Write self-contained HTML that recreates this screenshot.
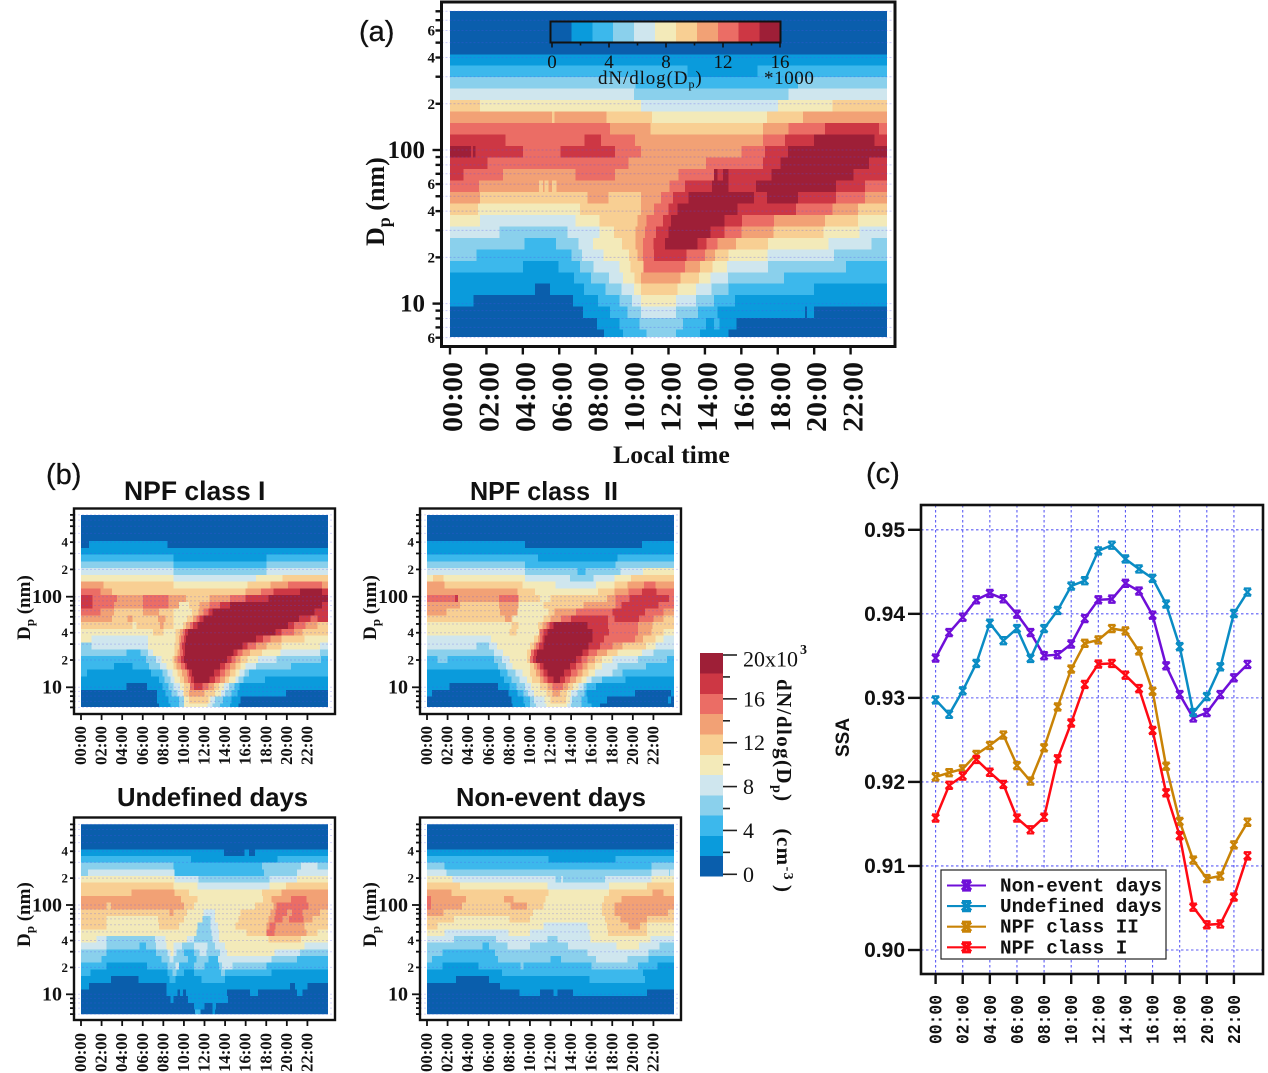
<!DOCTYPE html>
<html lang="en">
<head>
<meta charset="utf-8">
<title>Particle size distributions and SSA</title>
<style>
html,body{margin:0;padding:0;background:#fff;}
body{width:1268px;height:1073px;overflow:hidden;}
svg{display:block;filter:blur(0.35px);}
text{fill:#111;}
.sans{font-family:"Liberation Sans",sans-serif;}
.serif{font-family:"Liberation Serif",serif;font-weight:bold;}
.mono{font-family:"Liberation Mono",monospace;font-weight:bold;}
</style>
</head>
<body>
<svg id="fig" xmlns="http://www.w3.org/2000/svg" width="1268" height="1073" viewBox="0 0 1268 1073">
  <text class="sans" x="359" y="41" font-size="29" stroke="#111" stroke-width="0.3">(a)</text>
  <text class="sans" x="46" y="484" font-size="29" stroke="#111" stroke-width="0.3">(b)</text>
  <text class="sans" x="866" y="483" font-size="29" stroke="#111" stroke-width="0.3">(c)</text>

  <text class="sans" font-weight="bold" x="124" y="500" font-size="26.5">NPF class I</text>
  <text class="sans" font-weight="bold" x="470" y="500" font-size="26" textLength="148" lengthAdjust="spacingAndGlyphs" xml:space="preserve">NPF class  II</text>
  <text class="sans" font-weight="bold" x="117" y="806" font-size="26" textLength="191" lengthAdjust="spacingAndGlyphs">Undefined days</text>
  <text class="sans" font-weight="bold" x="456" y="806" font-size="26" textLength="190" lengthAdjust="spacingAndGlyphs">Non-event days</text>

  <text class="serif" x="613" y="463" font-size="25.8">Local time</text>
  <text class="serif" font-size="26" transform="translate(384,246) rotate(-90)">D<tspan font-size="18" dy="6">p</tspan><tspan dy="-6"> (nm)</tspan></text>
  <text class="serif" font-size="19" transform="translate(30,640) rotate(-90)">D<tspan font-size="13" dy="4">p</tspan><tspan dy="-4"> (nm)</tspan></text>
  <text class="serif" font-size="19" transform="translate(376,640) rotate(-90)">D<tspan font-size="13" dy="4">p</tspan><tspan dy="-4"> (nm)</tspan></text>
  <text class="serif" font-size="19" transform="translate(30,947) rotate(-90)">D<tspan font-size="13" dy="4">p</tspan><tspan dy="-4"> (nm)</tspan></text>
  <text class="serif" font-size="19" transform="translate(376,947) rotate(-90)">D<tspan font-size="13" dy="4">p</tspan><tspan dy="-4"> (nm)</tspan></text>

  <g id="heatA"></g>
  <g id="heatI"></g>
  <g id="heatII"></g>
  <g id="heatU"></g>
  <g id="heatN"></g>

  <g id="cbarTop"></g>
  <text class="serif" style="font-weight:normal" x="598" y="84" font-size="19" letter-spacing="0.9">dN/dlog(D<tspan font-size="12" dy="4">p</tspan><tspan dy="-4">)</tspan></text>
  <text class="serif" style="font-weight:normal" x="764" y="84" font-size="19" letter-spacing="0.6">*1000</text>

  <g id="cbarSide"></g>
  <text class="serif" font-size="21" letter-spacing="1.4" transform="translate(777,679) rotate(90)">dN/dlog(D<tspan font-size="14" dy="4">p</tspan><tspan dy="-4">)</tspan><tspan dx="26">(cm</tspan><tspan font-size="14" dy="-7">-3</tspan><tspan dx="4" dy="7">)</tspan></text>
  <text class="serif" x="800" y="654" font-size="14">3</text>

  <g id="lineChart"></g>
  <text class="sans" font-weight="bold" font-size="19" transform="translate(849,757) rotate(-90)">SSA</text>
</svg>

<script>
// ---------- shared axis labels ----------
var timeTickLabels = ['00:00','02:00','04:00','06:00','08:00','10:00','12:00','14:00','16:00','18:00','20:00','22:00'];
var dpMinorTicks = [800,700,600,500,400,300,200,100,90,80,70,60,50,40,30,20,10,9,8,7,6];
var dpLabelValues = [100,10];
var dpSmallTickLabels = [[600,'6'],[400,'4'],[200,'2'],[60,'6'],[40,'4'],[20,'2'],[6,'6']];
var levelColors = ['#0a5eac','#0a9bdc','#3cb8ec','#8ad0ec','#cfe6ee','#f3eab9','#f8cf93','#f2a175','#eb6d65','#cd3744','#9e1f37'];
var topBarTicks = [0,4,8,12,16];
var topBarMinor = [0,2,4,6,8,10,12,14,16];
var sideBarTicks = [0,4,8,12,16,20];
var sideBarMinor = [0,2,4,6,8,10,12,14,16,18,20];

// ---------- heatmap data: each row is level, endHour, level, endHour, ..., lastLevel ----------
var panelARows = [
[0],[0],[0],[0],
[1],
[2,13.05,1,16.9,2],
[3,10.2,2,19.1,3],
[4,10.1,3,18.6,4],
[6,1.65,5,10.5,4,18,5,21,6],
[7,5.6,6,5.75,7,8.6,6,11.1,5,17.4,6,19.4,7],
[8,8.8,7,11,6,17.2,7,18.6,8,20.6,9,23.55,8],
[9,3.05,8,7.4,9,8.3,8,10.15,7,17.2,8,18.4,9,20,10,23.3,9],
[10,1.15,9,1.25,10,1.4,9,4,8,6.07,9,9.07,8,10.5,7,16,8,17.3,9,18.55,10],
[9,2.05,8,9.8,7,14.07,8,17.2,9,18.15,10,23,9],
[9,0.73,8,2.9,7,6.9,8,9.07,7,12.55,8,14.5,10,14.7,9,15,10,15.3,9,17.66,10,22.15,9],
[8,1.6,7,4.9,6,5.1,7,5.2,6,5.4,7,5.6,6,5.85,7,12.06,8,12.9,9,14.4,10,15.3,9,16.8,10,21.2,9,22.8,8],
[7,1.65,6,7.55,7,8.7,6,10.5,7,11.6,8,12.25,9,13.1,10,16.7,9,17.4,10,19.1,9,21.2,8,22.8,7],
[6,1.55,5,7.15,6,10.5,7,11.2,8,12,9,12.5,10,15.8,9,19,8,21,7,22.4,6],
[5,1.65,4,6.9,5,8.2,6,10.3,7,10.8,8,11.7,9,12.15,10,15.07,9,16.05,8,17.8,7,20.6,6,22.4,5],
[4,2.73,3,6.46,4,8.2,5,9,6,10.2,7,10.7,8,11.3,9,12,10,14.3,9,15.07,8,16,7,17.76,6,20.5,5,22.5,4],
[3,4.1,2,5.83,3,7.05,4,7.84,5,9.45,6,10.2,7,10.6,8,11.18,9,11.8,10,13.6,9,14.1,8,14.7,7,15.7,6,17.47,5,20.8,4,23.16,3],
[3,1.45,2,6.66,3,7.25,4,8.43,5,9.84,6,10.3,7,10.6,8,11.2,9,13,8,14,7,14.56,6,15.3,5,17.43,4,21.1,3],
[2,4,1,5.97,2,7.15,3,7.88,4,9.3,5,9.9,6,10.63,8,12.9,7,13.73,6,14.42,5,15.2,4,17.47,3,21.75,2],
[1,6.8,2,7.74,3,8.72,4,9.5,5,10.14,6,10.5,7,12.65,6,13.67,5,14.32,4,15.27,3,18.35,2],
[1,4.66,0,5.48,1,7.35,2,8.53,3,9.41,4,10.1,5,10.5,6,12.5,5,13.5,4,14.36,3,15.3,2,20,1],
[1,1.3,0,6.76,1,8.13,2,9.3,3,10,4,10.5,5,12.4,4,13.5,3,14.5,2,15.66,1],
[0,7.3,1,8.8,2,9.76,3,10.5,4,12.4,3,13.63,2,14.7,1,19.5,0,19.6,1,20,0],
[0,8.07,1,9.3,2,10.4,3,12.8,2,14.07,1,14.5,2,14.8,1,15.74,0],
[0,8.47,1,9.5,2,10.8,3,12.4,2,13.73,1,15.3,0]
];
var classIRows = [
[0],[0],[0],[0],
[0,0.8,1,8.4,0],
[1],
[2,9,1,18,2],
[3,9,2,18,3],
[4,9,3,18,4],
[5,9,4,17,5,19.6,6],
[7,2.2,6,9,5,16.2,6,18.4,7,20.1,8,23.4,7],
[8,1.9,7,3,6,16,7,17.5,8,18.7,9,21.3,10,23.4,9],
[9,1.1,8,3.5,7,6,8,8.5,7,10.2,6,12.5,7,14.5,8,16,9,18.2,10],
[9,1.1,8,3.2,7,6,8,8.5,7,9.5,5,10.5,6,11.5,7,12.5,8,13.5,9,14.5,10,23.4,9],
[8,1.9,7,3.2,6,6,7,7.6,6,9,5,10.8,6,11.4,7,11.9,8,12.4,9,12.8,10,22.7,9],
[7,3,6,4.5,7,5,6,7.5,7,8.2,6,9,5,10.3,6,10.9,7,11.2,8,11.5,9,11.9,10,21.2,9,22.3,8,23,9],
[6,5,5,5.4,6,7.7,7,8,6,9,5,9.9,6,10.2,7,10.6,8,10.9,9,11.3,10,20.1,9,20.7,8,21.8,7,23,6],
[5,7,6,8,5,9.2,6,9.6,7,9.9,8,10.1,9,10.4,10,18.9,9,19.5,8,20.7,7,21.5,6],
[5,1,4,6.5,5,9.2,6,9.5,7,9.7,8,10,9,10.2,10,17,9,17.7,8,18.4,7,19.5,6,21.7,5],
[3,1,4,6.5,5,9.1,6,9.5,7,9.6,8,9.8,9,10.1,10,15.7,9,16.2,8,17,7,18,6,19.5,5,23.2,4],
[3,4.4,2,5.8,3,6.5,4,7,5,9.1,6,9.4,7,9.6,8,9.9,9,10.1,10,14.8,9,15.2,8,15.7,7,16.4,6,17.6,5,19.4,4,23.2,3],
[2,6.3,3,7.3,4,7.8,5,8.9,6,9.1,7,9.4,8,9.7,9,10,10,14.2,9,14.6,8,15,7,15.5,6,16.2,5,17.2,4,19,3,23.3,2],
[2,3.2,1,5,2,6.6,3,7.7,4,8.3,5,9,6,9.3,7,9.7,8,10.1,9,10.3,10,13.5,9,14,8,14.5,7,15,6,15.5,5,16,4,17,3,20.4,2],
[2,0.6,1,6.8,2,7.9,3,8.4,4,8.9,5,9.4,6,9.8,7,10.3,8,10.5,9,10.8,10,12.9,9,13.5,8,14,7,14.5,6,15,5,15.4,4,15.9,3,16.3,2],
[1,7.6,2,8.1,3,8.7,4,9.1,5,9.6,6,10,7,10.4,8,10.7,9,11,10,12.5,9,13,8,13.5,7,14,6,14.4,5,15,4,15.3,3,15.8,2,17.9,1],
[1,4.4,0,6.4,1,7.9,2,8.5,3,9,4,9.6,5,10,6,10.6,8,11,9,11.8,8,12.4,7,12.9,6,13.4,5,13.9,4,14.4,3,14.9,2,15.4,1],
[0,7.4,1,8.2,2,8.8,3,9.4,4,9.9,5,10,6,10.5,7,12,6,13,5,13.6,4,14,3,14.6,2,15.2,1,19.9,0],
[0,7.4,1,8.5,2,9.5,3,10,5,10.5,6,12.4,5,12.6,4,13,3,13.8,2,14.6,1,15.5,0],
[0,7.6,1,8.7,2,9.5,3,10,5,12.3,4,12.8,3,13.5,2,14.5,1,15.3,0]
];
var classIIRows = [
[0],[0],[0],[0],
[1,9.5,0,20.9,1],
[1],
[2,10.8,1,18.5,2],
[3,9.5,2,18.3,3],
[4,9.5,3,14.6,2,15.4,3,18.8,4,21,5],
[5,0.6,6,1.6,5,9.5,4,13.9,3,16.2,4,18.2,5,19.8,6],
[7,1.7,6,9.3,5,12.5,4,16.4,5,18.2,6,19.5,7,21.1,8,22.2,7],
[7,8.8,6,10.5,5,16.6,6,18.2,7,19.6,8,20.9,9,22.3,8],
[8,2.7,9,3,7,7,8,8.9,6,11,5,12,6,17.5,7,18.3,8,19.7,9,23.5,8],
[7,3.2,6,7,7,8.9,5,11.3,6,15.2,7,18.3,8,18.9,9,22.5,8],
[7,1.9,6,7.1,7,8.8,5,11.8,6,12.4,7,14.5,8,18,9,21.2,8,23,7],
[6,7.6,7,8.2,6,8.3,5,11.3,6,12,7,13,8,14,9,17.6,8,18.2,9,20.6,8,22,7,23,6],
[5,8.2,6,8.9,5,10.8,6,11.2,7,11.6,8,11.9,9,12.3,10,15.6,9,17.6,8,20.5,7,21.9,6],
[5,8,6,8.7,5,10.9,7,11,8,11.3,9,11.7,10,16.1,9,17.7,8,20.5,7,21.8,6,23,5],
[4,6.2,5,10.4,6,10.8,7,11,8,11.2,9,11.4,10,16.1,9,17.2,8,20.2,7,21,6,22.2,5,23,4],
[4,4.8,3,6,4,6.8,5,10,6,10.4,7,10.6,8,10.9,9,11.3,10,15.7,9,16.8,8,18,7,19,6,21.3,5,22.2,4],
[3,6.5,4,7.4,5,9.7,6,10.1,8,10.4,9,10.7,10,15.1,9,15.7,8,16.5,7,17.5,6,18.5,5,20.9,4,22,3],
[2,1,3,2,2,6.5,3,7.3,4,8,5,9.7,6,10,8,10.3,9,10.6,10,14.5,9,15,8,15.6,7,16.3,6,17,5,18,4,20.5,3,23.3,2],
[2,6.9,3,7.7,4,8.3,5,10,6,10.4,7,10.7,8,11,9,11.3,10,13.9,9,14.5,8,15.1,7,15.6,6,16.3,5,17,4,18.5,3,21.3,2],
[1,7.1,2,7.8,3,8.6,4,9.3,5,10,6,10.6,7,11,8,11.3,9,11.7,10,13.3,9,14,8,14.6,7,15.1,6,15.7,5,16.3,4,18,3,19,2],
[1,7.5,2,8.2,3,9,4,9.7,5,10.2,6,11,7,11.3,8,11.7,9,12.3,10,12.9,9,13.4,8,13.9,7,14.5,6,15,5,15.5,4,16,3,17,2,19.3,1],
[1,2.2,0,6.9,1,8,2,8.7,3,9.5,4,10.1,5,11,6,11.7,7,12.2,8,13.2,7,13.7,6,14.2,5,14.7,4,15.2,3,15.5,2,16.4,1],
[1,0.5,0,7.9,1,8.8,2,9.4,3,9.8,4,10.4,5,11.6,6,12.2,7,12.9,6,13.6,5,14,4,14.6,3,15.3,2,15.5,1,20.2,0,23.7,1],
[0,8.2,1,9.4,2,10,3,10.4,4,11.4,5,12,6,13.5,5,13.9,4,14.1,3,15,2,15.6,1,17.5,0,23.4,1,23.7,0],
[0,8.3,1,9.5,2,10,3,10.6,4,11.6,5,13.6,4,14,3,15,2,16,1,16.8,0]
];
var undefinedRows = [
[0],[0],[0],[0],
[1,13.9,0,15.9,1,16.3,0,16.9,1],
[2,10.7,1,19.1,2],
[3,9,2,17.6,3,21.4,4,23,3],
[3,0.7,4,9.1,2,17.8,3,21,4],
[5,9.1,4,11.4,3,18.3,4,21,5],
[6,9,5,11.3,4,18.3,5,19.9,6],
[6,4.9,7,9.1,6,10.5,5,17.6,6,19.5,7],
[7,9.7,6,11.3,5,17.7,6,18.5,7,20.4,8,21.9,7],
[7,2.5,6,2.9,7,10,6,11,5,16.9,6,18.7,7,19,8,22.1,7],
[6,8.6,7,9,6,10.3,5,11.9,4,13,5,15.5,6,18.4,7,18.9,8,20,7,20.5,8,21.5,7,23.2,6],
[6,2.5,5,7.5,6,10,5,11.8,3,12.6,4,13,5,15.3,6,18.2,7,18.8,8,19.6,7,20.2,8,21.6,7,22.5,6],
[6,2.5,5,7.6,6,9.5,5,11.3,3,12.6,4,13.3,5,15,6,18,7,18.3,8,18.9,7,21.7,6],
[5,11.2,3,12.7,4,13.4,5,16.1,6,18,8,18.8,7,21.9,6,23,5],
[5,1.5,4,2.5,3,7.2,4,8.2,5,10.3,4,11,3,12.8,4,13.4,5,18.2,6,21.4,5],
[4,2.5,3,5.7,2,6.3,3,7.3,4,8.3,5,9,4,9.8,3,11,4,12.3,3,13,4,14,5,21.7,4],
[3,2.5,2,7.3,3,8.4,4,8.7,5,9,4,9.3,3,10,2,11,3,11.5,4,12.2,3,13.5,4,14.2,5,18.8,4,21.3,3],
[3,2,2,7.8,3,8.6,4,9,3,10.4,2,11.2,3,12.4,2,13.3,4,18.5,3,21,2],
[2,2.5,1,6.4,2,8.4,3,9.2,4,9.5,2,11,3,12,2,13.4,3,13.7,4,14.7,3,18,2],
[2,0.9,1,8.4,2,8.9,3,9.3,2,10,1,11,2,13.6,3,14,2,18.5,1],
[1,2.9,0,5.6,1,8.6,2,9.2,1,11.7,2,14,1],
[1,0.8,0,8.3,1,20.3,0,20.8,1,22,0],
[0,8.3,1,9.4,0,9.6,1,9.9,0,10.2,1,14.2,0,16.4,1,17.2,0,21,1,21.5,0],
[0,8.7,1,9,0,10.4,1,14.3,0],
[0,11,1,12,0,12.8,1,13.1,0],
[0,11.1,2,11.6,0,12.8,1,13,0]
];
var nonEventRows = [
[0],[0],[0],[0],
[1],
[2,11.8,1,18.3,2],
[3,1.7,2,21.8,3],
[4,1.9,3,21.8,4,23.5,3,23.6,4],
[5,2.5,4,12.5,3,13,4,13.2,3,17.3,4,21.8,5],
[6,3.2,5,11.7,4,17.7,5,21.4,6],
[7,2.4,6,11.8,5,17.7,6,21.9,7,23,6],
[8,0.4,7,3.8,6,7.5,7,8.4,6,11.5,5,17.2,6,18.9,7],
[8,0.4,7,3.4,6,8.1,7,9.7,6,11.3,5,17,6,18.2,7],
[7,1.6,6,10.3,5,17,6,18.2,7,23.4,6],
[6,2.6,5,8,6,10,5,17.3,6,18.8,7,21.4,6],
[6,1,5,11.3,4,15.6,5,17.5,6,19.6,7,20.7,6,21.4,5],
[5,1.7,4,7.9,5,10,4,15.8,5,17.6,6,21.4,5],
[4,2.6,3,6.7,4,11.7,3,12.7,4,15.9,5,21.7,4],
[3,5.4,2,6,3,7.8,4,10,3,13.7,4,18.4,5,20.6,4,22.6,3],
[3,1.5,2,6.6,3,15.6,4,21.5,3],
[3,0.5,2,6.9,3,12,2,13,3,16.4,4,19.5,3,21.5,2],
[2,1.5,1,5,2,9.1,3,9.4,2,16,3,20.5,2,22.4,1],
[1,7.3,2,21,1],
[1,2.8,0,6,1,15.8,2,21.2,1],
[0,7.1,1],
[0,9,1,11,0,12.3,1,12.7,0,14.2,1,21.4,0],
[0],[0],[0]
];

// ---------- SSA line chart data ----------
var ssaHours = [0,1,2,3,4,5,6,7,8,9,10,11,12,13,14,15,16,17,18,19,20,21,22,23];
var ssaTickLabels = ['0.90','0.91','0.92','0.93','0.94','0.95'];
var ssaTickValues = [0.90,0.91,0.92,0.93,0.94,0.95];
var nonEventSSA = [0.93474,0.93777,0.9396,0.94167,0.94243,0.94179,0.93996,0.93777,0.93502,0.93514,0.93641,0.93944,0.94167,0.94175,0.94363,0.94271,0.93984,0.93382,0.9304,0.92761,0.92825,0.9304,0.93239,0.93398];
var undefinedSSA = [0.92976,0.92805,0.93084,0.9341,0.93888,0.93681,0.93825,0.9347,0.93825,0.9404,0.94331,0.94394,0.94749,0.94817,0.94653,0.94534,0.94422,0.94116,0.9361,0.92825,0.93016,0.9337,0.94004,0.94259];
var classIISSA = [0.9206,0.9211,0.92155,0.92327,0.92434,0.92558,0.92195,0.9201,0.92406,0.92892,0.93343,0.93649,0.93689,0.93825,0.93797,0.93558,0.9308,0.92187,0.9153,0.9107,0.9085,0.9088,0.9125,0.9152];
var classISSA = [0.9157,0.9196,0.9207,0.92267,0.92115,0.9197,0.9157,0.9143,0.9158,0.92275,0.92701,0.9316,0.93402,0.9341,0.9327,0.9311,0.92613,0.9187,0.9136,0.9051,0.903,0.9031,0.9063,0.9112];
var legendLabels = ['Non-event days','Undefined days','NPF class II','NPF class I'];

// ---------- drawing ----------
var NS = 'http://www.w3.org/2000/svg';
var ROW_STEP_DEX = 0.0747;
function make(tag, parent, attrs){
  var n = document.createElementNS(NS, tag);
  for (var k in attrs) n.setAttribute(k, attrs[k]);
  parent.appendChild(n);
  return n;
}
var clipCount = 0;

function drawHeatmap(g, rows, o){
  function xOf(h){ return o.x0 + h * o.w / 24; }
  function yOf(dp){ return o.y100 + (2 - Math.log10(dp)) * o.decade; }
  var clipId = 'clip' + (clipCount++);
  var defs = make('defs', g, {});
  
  
  var cp = make('clipPath', defs, {id: clipId});
  make('rect', cp, {x: o.x0, y: o.top, width: o.w, height: o.bottom - o.top});
  var cells = make('g', g, {'clip-path': 'url(#' + clipId + ')', 'shape-rendering': 'crispEdges'});
  
  
  for (var i = 0; i < rows.length; i++){
    var k = i - 4;
    var yTop = yOf(o.edgeDp * Math.pow(10, -ROW_STEP_DEX * k));
    var yBot = yOf(o.edgeDp * Math.pow(10, -ROW_STEP_DEX * (k + 1)));
    if (i === 0) yTop = o.top - 40;
    var row = rows[i], start = 0;
    for (var j = 0; j < row.length; j += 2){
      var end = j + 1 < row.length ? row[j + 1] : 24;
      var cell = make('rect', cells, {x: xOf(start), y: yTop, width: Math.max(0, xOf(end) - xOf(start)) + 0.5, height: yBot - yTop + 0.5, fill: levelColors[row[j]]});
      
      
      start = end;
    }
  }
  // faint dotted grid
  dpMinorTicks.forEach(function(dp){
    var y = yOf(dp);
    if (y < o.frameTop || y > o.frameBottom) return;
    var gl = make('line', g, {x1: o.frameLeft, x2: o.frameRight, y1: y, y2: y, stroke: 'rgba(80,80,240,' + o.gridAlpha + ')', 'stroke-width': 1, 'stroke-dasharray': '2 2'});
    
    
    var major = (dp === 100 || dp === 10);
    var t = make('line', g, {x1: o.frameLeft - (major ? o.majorLen : o.minorLen), x2: o.frameLeft, y1: y, y2: y, stroke: '#111', 'stroke-width': o.tickW});
    
    
  });
  // frame
  var frame = make('rect', g, {x: o.frameLeft, y: o.frameTop, width: o.frameRight - o.frameLeft, height: o.frameBottom - o.frameTop, fill: 'none', stroke: '#111', 'stroke-width': o.frameW});
  
  
  // big tick labels
  dpLabelValues.forEach(function(v){
    var lb = make('text', g, {x: o.bigEnd, y: yOf(v) + o.bigSize * 0.32, 'text-anchor': 'end', 'font-size': o.bigSize, 'class': 'serif'});
    lb.textContent = String(v);
    
    
  });
  dpSmallTickLabels.forEach(function(p){
    if (!o.smallAll && (p[1] === '6')) return;
    var y = yOf(p[0]);
    if (y < o.frameTop || y > o.frameBottom) return;
    var lb = make('text', g, {x: o.smallEnd, y: y + o.smallSize * 0.34, 'text-anchor': 'end', 'font-size': o.smallSize, 'class': 'serif'});
    lb.textContent = p[1];
    
    
  });
  // x ticks
  timeTickLabels.forEach(function(lab, i){
    var x = xOf(i * 2);
    var t = make('line', g, {x1: x, x2: x, y1: o.frameBottom, y2: o.frameBottom + o.xTickLen, stroke: '#111', 'stroke-width': o.tickW});
    
    
    var lb = make('text', g, {'font-size': o.xSize, 'class': 'serif', transform: 'translate(' + (x + o.xShift) + ',' + o.xLabelY + ') rotate(-90)', textLength: o.xLen, lengthAdjust: 'spacingAndGlyphs'});
    lb.textContent = lab;
    
    
  });
}

var smallPanel = {w: 247, decade: 90.6, minorLen: 4, majorLen: 8, tickW: 1.8, frameW: 2.4, gridAlpha: 0.24, bigSize: 20, smallSize: 13, smallEnd: 68, smallAll: false, xTickLen: 6, xSize: 16.5, xShift: 5, xLen: 39};
function panel(base, extra){ var r = {}, k; for (k in base) r[k] = base[k]; for (k in extra) r[k] = extra[k]; return r; }

drawHeatmap(document.getElementById('heatA'), panelARows, {
  x0: 450, w: 437, top: 11, bottom: 337, y100: 150, decade: 153.6, edgeDp: 420,
  frameLeft: 441.5, frameRight: 895, frameTop: 2, frameBottom: 346.5, frameW: 3, gridAlpha: 0.3,
  minorLen: 6, majorLen: 9, tickW: 2.4, bigSize: 25, bigEnd: 425, smallSize: 15, smallEnd: 435, smallAll: true,
  xTickLen: 8, xSize: 28, xShift: 12, xLabelY: 432, xLen: 70
});
drawHeatmap(document.getElementById('heatI'), classIRows, panel(smallPanel, {
  x0: 81, top: 515, bottom: 707, y100: 596.7, edgeDp: 412,
  frameLeft: 74, frameRight: 335, frameTop: 508.5, frameBottom: 714, bigEnd: 62, xLabelY: 765
}));
drawHeatmap(document.getElementById('heatII'), classIIRows, panel(smallPanel, {
  x0: 427, top: 515, bottom: 707, y100: 596.7, edgeDp: 412,
  frameLeft: 420, frameRight: 681, frameTop: 508.5, frameBottom: 714, bigEnd: 408, smallEnd: 414, xLabelY: 765
}));
drawHeatmap(document.getElementById('heatU'), undefinedRows, panel(smallPanel, {
  x0: 81, top: 824.3, bottom: 1014.3, y100: 905, decade: 89.3, edgeDp: 420,
  frameLeft: 74, frameRight: 335, frameTop: 817.5, frameBottom: 1020, bigEnd: 62, xLabelY: 1072
}));
drawHeatmap(document.getElementById('heatN'), nonEventRows, panel(smallPanel, {
  x0: 427, top: 824.3, bottom: 1014.3, y100: 905, decade: 89.3, edgeDp: 420,
  frameLeft: 420, frameRight: 681, frameTop: 817.5, frameBottom: 1020, bigEnd: 408, smallEnd: 414, xLabelY: 1072
}));

// top colorbar
(function(){
  var g = document.getElementById('cbarTop');
  var x0 = 550.5, x1 = 780.5, y0 = 21.5, y1 = 42.5, n = levelColors.length;
  var bw = (x1 - x0) / n;
  function xv(v){ return 552 + v * (780 - 552) / 16; }
  levelColors.forEach(function(c, i){
    var b = make('rect', g, {x: x0 + i * bw, y: y0, width: bw + 0.4, height: y1 - y0, fill: c, 'shape-rendering': 'crispEdges'});
    
    
  });
  var fr = make('rect', g, {x: x0, y: y0, width: x1 - x0, height: y1 - y0, fill: 'none', stroke: '#111', 'stroke-width': 2});
  
  
  topBarMinor.forEach(function(v){
    var major = topBarTicks.indexOf(v) >= 0;
    var t = make('line', g, {x1: xv(v), x2: xv(v), y1: y1, y2: y1 + (major ? 5 : 3), stroke: '#111', 'stroke-width': 1.6});
    
    
  });
  topBarTicks.forEach(function(v){
    var lb = make('text', g, {x: xv(v), y: 68, 'text-anchor': 'middle', 'font-size': 19, 'class': 'serif', style: 'font-weight:normal'});
    lb.textContent = String(v);
    
    
  });
})();

// side colorbar
(function(){
  var g = document.getElementById('cbarSide');
  var x0 = 700, x1 = 723, y0 = 653, y1 = 876, n = levelColors.length;
  var bh = (y1 - y0) / n;
  function yv(v){ return 874.3 - v * (874.3 - 655) / 20; }
  levelColors.forEach(function(c, i){
    var b = make('rect', g, {x: x0, y: y1 - (i + 1) * bh, width: x1 - x0, height: bh + 0.4, fill: c, 'shape-rendering': 'crispEdges'});
    
    
  });
  sideBarMinor.forEach(function(v){
    var major = sideBarTicks.indexOf(v) >= 0;
    var t = make('line', g, {x1: x1, x2: x1 + (major ? 14 : 7), y1: yv(v), y2: yv(v), stroke: '#222', 'stroke-width': 1.6});
    
    
  });
  sideBarTicks.forEach(function(v){
    var lb = make('text', g, {x: 743, y: yv(v) + (v === 20 ? 11.5 : 7.5), 'font-size': 22, 'class': 'serif', style: 'font-weight:normal'});
    lb.textContent = v === 20 ? '20x10' : String(v);
    
    
  });
})();

// SSA chart
(function(){
  var g = document.getElementById('lineChart');
  var L = 921, R = 1263, T = 505, B = 974;
  function xh(h){ return 935.6 + h * 13.56; }
  function yv(v){ return 950 - (v - 0.9) * 8404; }
  timeTickLabels.forEach(function(lab, i){
    var x = xh(i * 2);
    var gl = make('line', g, {x1: x, x2: x, y1: T, y2: B, stroke: '#5a5af5', 'stroke-width': 1.1, 'stroke-dasharray': '2.5 2.5'});
    
    
    var t = make('line', g, {x1: x, x2: x, y1: B, y2: B + 10, stroke: '#111', 'stroke-width': 2.4});
    
    
    var lb = make('text', g, {'font-size': 18, 'class': 'mono', transform: 'translate(' + (x + 6) + ',1044) rotate(-90)', textLength: 49, lengthAdjust: 'spacingAndGlyphs'});
    lb.textContent = lab;
    
    
  });
  ssaTickValues.forEach(function(v, i){
    var y = yv(v);
    var gl = make('line', g, {x1: L, x2: R, y1: y, y2: y, stroke: '#5a5af5', 'stroke-width': 1.1, 'stroke-dasharray': '2.5 2.5'});
    
    
    var t = make('line', g, {x1: L - 13, x2: L, y1: y, y2: y, stroke: '#111', 'stroke-width': 2.4});
    
    
    var lb = make('text', g, {x: 905, y: y + 7, 'text-anchor': 'end', 'font-size': 21, 'class': 'sans', 'font-weight': 'bold'});
    lb.textContent = ssaTickLabels[i];
    
    
  });
  function star(parent, x, y, r, color, w){
    var m = make('path', parent, {d: 'M' + (x - r) + ' ' + (y - r) + 'L' + (x + r) + ' ' + (y + r) + 'M' + (x + r) + ' ' + (y - r) + 'L' + (x - r) + ' ' + (y + r) + 'M' + (x - r) + ' ' + (y - r) + 'H' + (x + r) + 'M' + (x - r) + ' ' + (y + r) + 'H' + (x + r), stroke: color, 'stroke-width': w, fill: 'none'});
    
    
  }
  function series(values, color, name){
    var pts = values.map(function(v, i){ return xh(ssaHours[i]).toFixed(1) + ',' + yv(v).toFixed(1); }).join(' ');
    var s = make('polyline', g, {points: pts, fill: 'none', stroke: color, 'stroke-width': 2.5});
    
    
    values.forEach(function(v, i){ star(g, xh(ssaHours[i]), yv(v), 3.6, color, 2.2); });
  }
  series(nonEventSSA, '#6f0fd8', 'series-non-event-days');
  series(undefinedSSA, '#0a8cc4', 'series-undefined-days');
  series(classIISSA, '#c98306', 'series-npf-class-2');
  series(classISSA, '#ff0a14', 'series-npf-class-1');
  var fr = make('rect', g, {x: L, y: T, width: R - L, height: B - T, fill: 'none', stroke: '#111', 'stroke-width': 2.6});
  
  
  // legend
  var lg = make('rect', g, {x: 941, y: 870, width: 225, height: 89, fill: '#fff', stroke: '#222', 'stroke-width': 1.2});
  
  
  var legendColors = ['#6f0fd8', '#0a8cc4', '#c98306', '#ff0a14'];
  legendLabels.forEach(function(lab, i){
    var y = 885.5 + i * 20.6;
    var ln = make('line', g, {x1: 947, x2: 986, y1: y, y2: y, stroke: legendColors[i], 'stroke-width': 2.1});
    
    
    star(g, 966.5, y, 4.5, legendColors[i], 3.2);
    var tx = make('text', g, {x: 1000, y: y + 6, 'font-size': 19.3, 'class': 'mono', style: 'font-weight:bold'});
    tx.textContent = lab;
    
    
  });
})();
</script>
</body>
</html>
